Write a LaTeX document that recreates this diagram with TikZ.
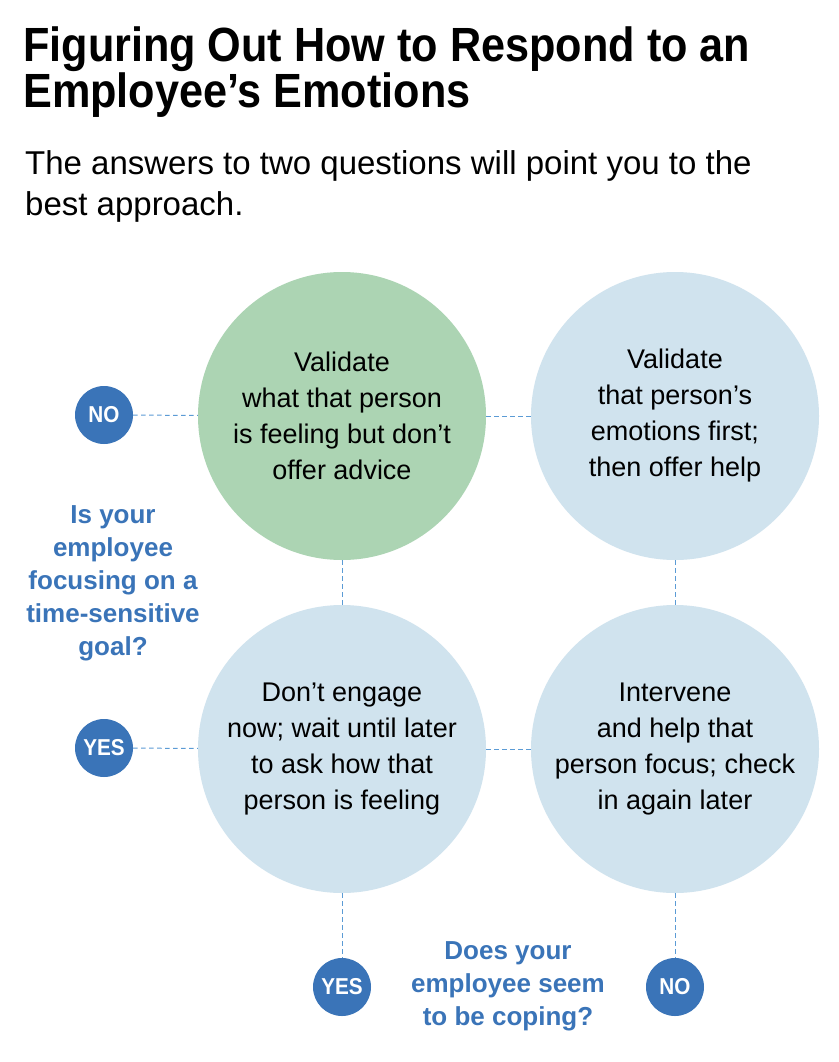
\documentclass[tikz,border=0pt]{standalone}
\usepackage{fontspec}
\setmainfont{Liberation Sans}
\newfontfamily\titlefont[FakeStretch=0.9]{Liberation Sans}
\definecolor{greenfill}{HTML}{ACD4B3}
\definecolor{bluefill}{HTML}{D0E3EE}
\definecolor{darkblue}{HTML}{3A74B8}
\definecolor{dashblue}{HTML}{5B9BD5}
\tikzset{
  bigcircle/.style={circle, minimum size=288pt, inner sep=0pt, align=center, text=black,
    font=\fontsize{27}{36}\selectfont},
  answer/.style={circle, fill=darkblue, minimum size=58pt, inner sep=0pt, text=white,
    font=\titlefont\bfseries\fontsize{23}{24}\selectfont},
  question/.style={align=center, text=darkblue, font=\bfseries\fontsize{26}{33}\selectfont},
  link/.style={draw=dashblue, line width=1pt, dash pattern=on 4.5pt off 3.5pt},
}
\begin{document}
\begin{tikzpicture}[x=1pt,y=-1pt]
\useasboundingbox (0,0) rectangle (838,1062);
\fill[white] (0,0) rectangle (838,1062);
% title
\node[anchor=base west, inner sep=0pt, font=\titlefont\bfseries\fontsize{48}{48}\selectfont] (t1) at (23,62) {Figuring Out How to Respond to an};
\node[anchor=base west, inner sep=0pt, font=\titlefont\bfseries\fontsize{48}{48}\selectfont] (t2) at (23,108) {Employee’s Emotions};
\node[anchor=base west, inner sep=0pt, font=\fontsize{33}{33}\selectfont] (s1) at (25,174) {The answers to two questions will point you to the};
\node[anchor=base west, inner sep=0pt, font=\fontsize{33}{33}\selectfont] (s2) at (25,215) {best approach.};
% circles
\node[bigcircle, fill=greenfill] (c1) at (342,416) {Validate\\what that person\\is feeling but don’t\\offer advice};
\node[bigcircle, fill=bluefill] (c2) at (675,416) {Validate\\that person’s\\emotions first;\\then offer help};
\node[bigcircle, fill=bluefill] (c3) at (342,749) {Don’t engage\\now; wait until later\\to ask how that\\person is feeling};
\node[bigcircle, fill=bluefill] (c4) at (675,749) {Intervene\\and help that\\person focus; check\\in again later};
% answers
\node[answer] (no1) at (104,415) {NO};
\node[answer] (yes1) at (104,748) {YES};
\node[answer] (yes2) at (342,987) {YES};
\node[answer] (no2) at (675,987) {NO};
% questions
\node[question] (q1) at (113,583) {Is your\\employee\\focusing on a\\time-sensitive\\goal?};
\node[question] (q2) at (508,986) {Does your\\employee seem\\to be coping?};
% connectors
\draw[link] (no1) -- (c1);
\draw[link] (c1) -- (c2);
\draw[link] (c1) -- (c3);
\draw[link] (c2) -- (c4);
\draw[link] (yes1) -- (c3);
\draw[link] (c3) -- (c4);
\draw[link] (c3) -- (yes2);
\draw[link] (c4) -- (no2);
\end{tikzpicture}
\end{document}
